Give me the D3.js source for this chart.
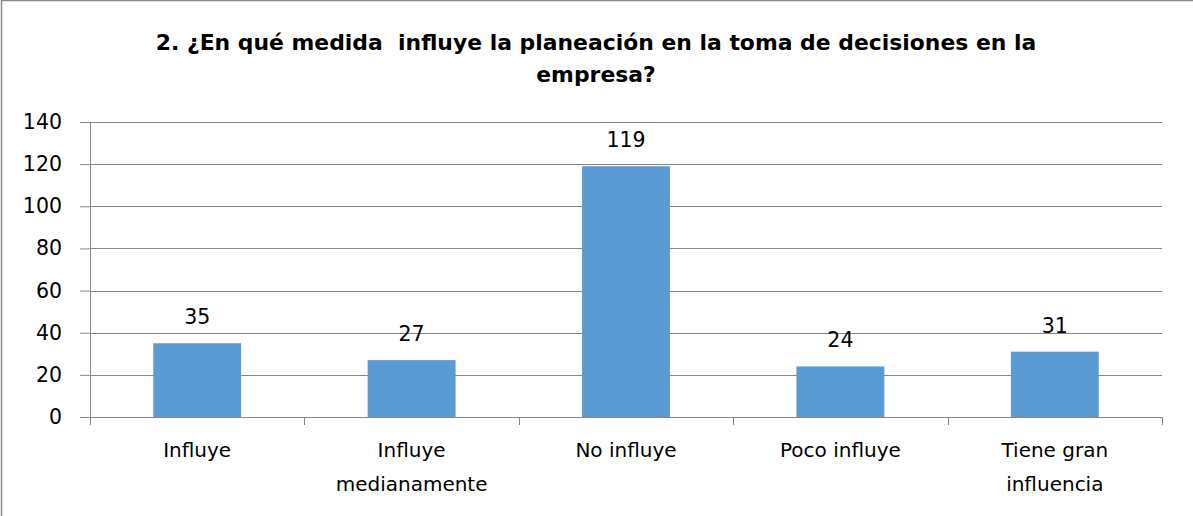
<!DOCTYPE html>
<html><head><meta charset="utf-8">
<script src="https://cdn.jsdelivr.net/npm/d3@7"></script>
<style>body{margin:0;background:#fff}svg{display:block}</style>
</head><body>
<script>
const categories = [["Influye"],["Influye","medianamente"],["No influye"],["Poco influye"],["Tiene gran","influencia"]];
const values = [35, 27, 119, 24, 31];
const yTicks = [0,20,40,60,80,100,120,140];
const titleLines = ["2. ¿En qué medida  influye la planeación en la toma de decisiones en la","empresa?"];

const W=1193,H=516;
const m={left:90,right:1162,top:122,bottom:417};
const font="'DejaVu Sans', sans-serif";
const svg=d3.select("body").append("svg").attr("width",W).attr("height",H);
svg.append("path").attr("d",`M1.5,${H} V0.5 H${W}`).attr("fill","none").attr("stroke","#8c8c8c").attr("stroke-width",1.5);

const x=d3.scaleBand().domain(d3.range(values.length)).range([m.left,m.right]).paddingInner(0.59).paddingOuter(0.295);
const xb=d3.scaleBand().domain(d3.range(values.length)).range([m.left,m.right]);
const y=d3.scaleLinear().domain([0,140]).range([m.bottom,m.top]);

const ya=svg.append("g").attr("transform",`translate(${m.left},0)`)
 .call(d3.axisLeft(y).tickValues(yTicks).tickSize(10).tickPadding(18));
ya.select(".domain").remove();
ya.selectAll(".tick line").attr("stroke","#868686");
ya.selectAll(".tick text").attr("font-family",font).attr("font-size",20.5).attr("fill","#000");
svg.append("g").selectAll("line").data(yTicks).join("line")
 .attr("x1",m.left).attr("x2",m.right).attr("y1",d=>Math.round(y(d))+0.5).attr("y2",d=>Math.round(y(d))+0.5)
 .attr("stroke","#868686").attr("stroke-width",1);
svg.append("line").attr("x1",m.left+0.5).attr("x2",m.left+0.5).attr("y1",m.top).attr("y2",m.bottom+8).attr("stroke","#868686");
svg.append("g").selectAll("line").data(d3.range(values.length+1)).join("line")
 .attr("x1",i=>Math.round(m.left+i*xb.bandwidth())+0.5).attr("x2",i=>Math.round(m.left+i*xb.bandwidth())+0.5)
 .attr("y1",m.bottom).attr("y2",m.bottom+8).attr("stroke","#868686");

svg.append("g").selectAll("rect").data(values).join("rect")
 .attr("x",(d,i)=>x(i)).attr("width",x.bandwidth()).attr("y",d=>y(d)).attr("height",d=>y(0)-y(d)).attr("fill","#5b9bd5");
svg.append("g").selectAll("text").data(values).join("text")
 .attr("x",(d,i)=>x(i)+x.bandwidth()/2).attr("y",d=>y(d)-19).attr("text-anchor","middle")
 .attr("font-family",font).attr("font-size",20.5).attr("fill","#000").text(d=>d);
const cl=svg.append("g").selectAll("text").data(categories).join("text")
 .attr("x",(d,i)=>xb(i)+xb.bandwidth()/2).attr("y",457).attr("text-anchor","middle")
 .attr("font-family",font).attr("font-size",20).attr("fill","#000");
cl.selectAll("tspan").data(d=>d).join("tspan").attr("x",function(){return this.parentNode.getAttribute("x");})
 .attr("dy",(d,i)=>i?34:0).text(d=>d);
svg.append("g").selectAll("text").data(titleLines).join("text")
 .attr("x",596).attr("y",(d,i)=>50+i*32).attr("text-anchor","middle").style("white-space","pre")
 .attr("font-family",font).attr("font-weight","bold").attr("font-size",21.9).attr("fill","#000").text(d=>d);
</script>
</body></html>
